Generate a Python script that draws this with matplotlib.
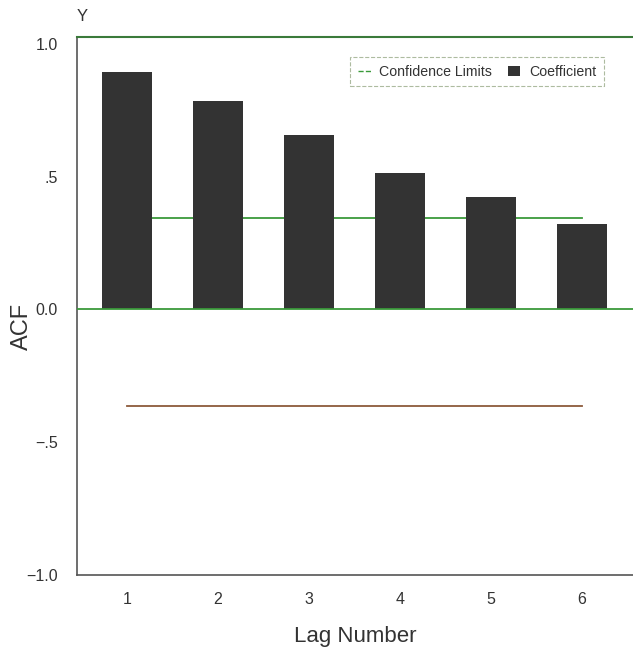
import matplotlib
matplotlib.use("Agg")
import matplotlib.pyplot as plt
from matplotlib.lines import Line2D
from matplotlib.patches import Patch

lags = [1, 2, 3, 4, 5, 6]
acf_values = [0.895, 0.785, 0.657, 0.515, 0.425, 0.322]
upper_limit = [0.345] * 6
lower_limit = [-0.365] * 6
ytick_vals = [1.0, 0.5, 0.0, -0.5, -1.0]
ytick_labels = ["1.0", ".5", "0.0", "\u2212.5", "\u22121.0"]

plt.rcParams['font.family'] = ['Liberation Sans', 'DejaVu Sans']

fig = plt.figure(figsize=(6.33, 6.54), dpi=100)
ax = fig.add_axes([0.1216, 0.121, 0.8784, 0.822])

ax.plot(lags, upper_limit, color='#3a9a3a', lw=1.3, zorder=1)
ax.plot(lags, lower_limit, color='#8c5a3c', lw=1.3, zorder=1)
ax.bar(lags, acf_values, width=0.54, color='#333333', zorder=2)
ax.axhline(0, color='#3a9a3a', lw=1.3, zorder=3)

ax.set_xlim(0.45, 6.56)
ax.set_ylim(-1.0, 1.025)
ax.set_xticks(lags)
ax.set_xticklabels([str(l) for l in lags])
ax.set_yticks(ytick_vals)
ax.set_yticklabels(ytick_labels)
ax.tick_params(length=0, labelsize=11.5, colors='#333333', pad=14)
ax.tick_params(axis='x', pad=12)

for s in ['left', 'bottom']:
    ax.spines[s].set_color('#555555')
    ax.spines[s].set_linewidth(1.2)
ax.spines['top'].set_color('#3a7a3a')
ax.spines['top'].set_linewidth(1.5)
ax.spines['right'].set_visible(False)

fig.text(22 / 633, 1 - 326 / 654, 'ACF', fontsize=17, color='#333333',
         rotation=90, ha='center', va='center')
ax.set_xlabel('Lag Number', fontsize=16, color='#333333', labelpad=14)
fig.text(0.13, 0.975, 'Y', fontsize=12, color='#333333', ha='center', va='center')

handles = [Line2D([0], [0], color='#3a9a3a', lw=1, ls='--'),
           Patch(facecolor='#333333')]
leg = ax.legend(handles, ['Confidence Limits', 'Coefficient'], loc='upper right',
                bbox_to_anchor=(0.96, 0.977), ncol=2, fontsize=10.2, frameon=True,
                fancybox=False, handlelength=0.9, handletextpad=0.6, columnspacing=1.1,
                borderpad=0.55)
leg.get_frame().set_edgecolor('#99aa88')
leg.get_frame().set_linestyle('--')
leg.get_frame().set_linewidth(0.8)
for t in leg.get_texts():
    t.set_color('#333333')

fig.savefig('out.png', dpi=100)
